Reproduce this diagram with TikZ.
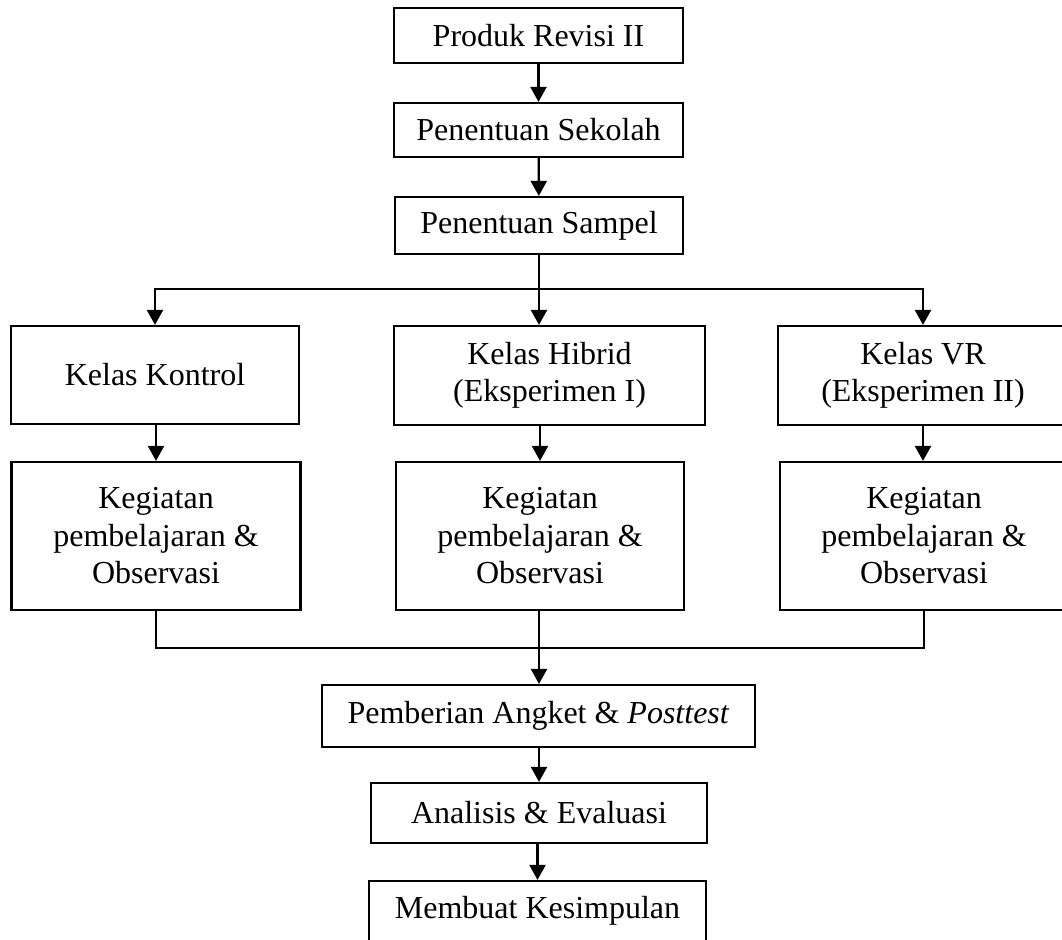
\documentclass[tikz,border=0pt]{standalone}
\usepackage{fontspec}
\setmainfont{Liberation Serif}
\usetikzlibrary{arrows.meta}
\tikzset{
  box/.style={draw, line width=2.2pt, align=center, inner sep=0pt,
    font=\fontsize{32}{37.5}\selectfont},
  arr/.style={line width=2.2pt, -{Triangle[length=15pt,width=16pt]}},
  ln/.style={line width=2.2pt}
}
\begin{document}
\begin{tikzpicture}[x=1pt,y=-1pt]
\useasboundingbox (0,0) rectangle (1062,939);
\clip (0,0) rectangle (1062,939);
\fill[white] (0,0) rectangle (1062,939);
\node[box, minimum width=289pt, minimum height=55pt] (p1) at (538.5,35.5) {Produk Revisi II};
\node[box, minimum width=289pt, minimum height=54pt] (p2) at (538.5,130) {Penentuan Sekolah};
\node[box, minimum width=288pt, minimum height=57pt] (p3) at (539,225.5) {Penentuan Sampel};
\node[box, minimum width=288pt, minimum height=98pt] (kk) at (155,375) {Kelas Kontrol};
\node[box, minimum width=311pt, minimum height=99pt] (kh) at (549.5,375.5) {Kelas Hibrid\\(Eksperimen I)};
\node[box, minimum width=290pt, minimum height=99pt] (kv) at (923,375.5) {Kelas VR\\(Eksperimen II)};
\node[box, minimum width=289pt, minimum height=148pt] (g1) at (156,536) {Kegiatan\\pembelajaran \&\\Observasi};
\node[box, minimum width=288pt, minimum height=148pt] (g2) at (540,536) {Kegiatan\\pembelajaran \&\\Observasi};
\node[box, minimum width=288pt, minimum height=148pt] (g3) at (924,536) {Kegiatan\\pembelajaran \&\\Observasi};
\node[box, minimum width=433pt, minimum height=62pt] (pa) at (538.5,716) {Pemberian Angket \& \textit{Posttest}};
\node[box, minimum width=336pt, minimum height=60pt] (ae) at (539,813) {Analisis \& Evaluasi};
\node[box, minimum width=337pt, minimum height=60pt] (mk) at (537.5,911) {Membuat Kesimpulan};
\coordinate (br) at (539,289);
\coordinate (mg) at (539,648);
\draw[arr] (p1) -- (p2);
\draw[arr] (p2) -- (p3);
\draw[ln] (p3.south) -- (br);
\draw[arr] (br) -| (kk.north);
\draw[arr] (br) -| (kv.north);
\draw[arr] (br) -- (br |- kh.north);
\draw[arr] (kk.south -| g1.north) -- (g1.north);
\draw[arr] (g2.north |- kh.south) -- (g2.north);
\draw[arr] (kv.south) -- (kv.south |- g3.north);
\draw[ln] (g1.south) |- (mg);
\draw[ln] (g3.south) |- (mg);
\draw[ln] (g2.south -| mg) -- (mg);
\draw[arr] (mg) -- (mg |- pa.north);
\draw[arr] (pa.south -| ae.north) -- (ae.north);
\draw[arr] (ae.south -| mk.north) -- (mk.north);
\end{tikzpicture}
\end{document}
